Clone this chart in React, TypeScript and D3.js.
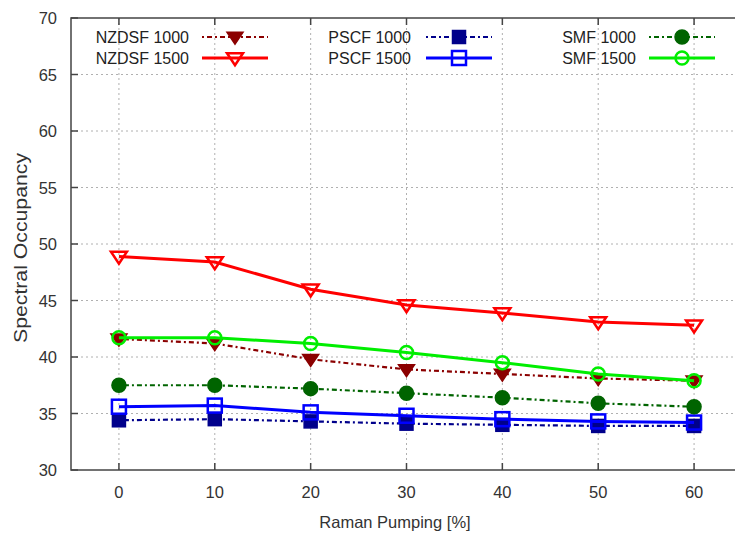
import React from "react";
import * as d3 from "d3";

const xValues = [0, 10, 20, 30, 40, 50, 60];
const nzdsf1000 = [41.6, 41.2, 39.8, 38.9, 38.5, 38.1, 37.9];
const nzdsf1500 = [48.9, 48.4, 46.0, 44.6, 43.9, 43.1, 42.8];
const pscf1000 = [34.4, 34.5, 34.3, 34.1, 34.0, 33.9, 33.9];
const pscf1500 = [35.6, 35.7, 35.1, 34.8, 34.5, 34.3, 34.2];
const smf1000 = [37.5, 37.5, 37.2, 36.8, 36.4, 35.9, 35.6];
const smf1500 = [41.7, 41.7, 41.2, 40.4, 39.5, 38.5, 37.9];
const xTicks = [0, 10, 20, 30, 40, 50, 60];
const yTicks = [30, 35, 40, 45, 50, 55, 60, 65, 70];

type Marker = "triDown" | "square" | "circle";
interface Series {
  name: string;
  values: number[];
  color: string;
  marker: Marker;
  filled: boolean;
  thick: boolean;
}

const series: Series[] = [
  { name: "NZDSF 1000", values: nzdsf1000, color: "#8b0000", marker: "triDown", filled: true, thick: false },
  { name: "NZDSF 1500", values: nzdsf1500, color: "#ff0000", marker: "triDown", filled: false, thick: true },
  { name: "PSCF 1000", values: pscf1000, color: "#00008b", marker: "square", filled: true, thick: false },
  { name: "PSCF 1500", values: pscf1500, color: "#0000ff", marker: "square", filled: false, thick: true },
  { name: "SMF 1000", values: smf1000, color: "#006400", marker: "circle", filled: true, thick: false },
  { name: "SMF 1500", values: smf1500, color: "#00ee00", marker: "circle", filled: false, thick: true },
];

const W = 735;
const H = 536;
const left = 71;
const right = 742;
const top = 18;
const bottom = 470;
const FONT = "'Liberation Sans', Arial, Helvetica, sans-serif";

function MarkerShape({ s, cx, cy }: { s: Series; cx: number; cy: number }) {
  const fill = s.filled ? s.color : "white";
  const fillOpacity = s.filled ? 1 : 0;
  const sw = s.filled ? 1.5 : 2.5;
  if (s.marker === "triDown") {
    const r = 8;
    const p = `M${cx - r},${cy - r * 0.6} L${cx + r},${cy - r * 0.6} L${cx},${cy + r * 0.9} Z`;
    return <path d={p} fill={fill} fillOpacity={fillOpacity} stroke={s.color} strokeWidth={sw} />;
  }
  if (s.marker === "square") {
    const r = s.filled ? 6.5 : 7;
    return (
      <rect x={cx - r} y={cy - r} width={2 * r} height={2 * r} fill={fill} fillOpacity={fillOpacity} stroke={s.color} strokeWidth={sw} />
    );
  }
  const r = s.filled ? 7 : 6.5;
  return <circle cx={cx} cy={cy} r={r} fill={fill} fillOpacity={fillOpacity} stroke={s.color} strokeWidth={sw} />;
}

export default function App() {
  const x = d3.scaleLinear().domain([-5, 65]).range([left, right]);
  const y = d3.scaleLinear().domain([30, 70]).range([bottom, top]);
  const line = d3
    .line<number>()
    .x((_, i) => x(xValues[i]))
    .y((d) => y(d));

  const legendCols = [0, 1, 2];
  const legendTextEnd = [189, 411, 636];
  const legendSampleStart = [202, 426, 649];
  const legendSampleLen = 66;
  const legendRows = [37, 58];

  return (
    <svg
      width={W}
      height={H}
      style={{ position: "absolute", left: 0, top: 0, background: "white" }}
      fontFamily={FONT}
    >
      <rect x={0} y={0} width={W} height={H} fill="white" />
      {/* grid */}
      {xTicks.map((t) => (
        <line key={"gx" + t} x1={x(t)} x2={x(t)} y1={top} y2={bottom} stroke="#b0b0b0" strokeWidth={1} strokeDasharray="2,3" />
      ))}
      {yTicks.slice(1, -1).map((t) => (
        <line key={"gy" + t} x1={left} x2={right} y1={y(t)} y2={y(t)} stroke="#b0b0b0" strokeWidth={1} strokeDasharray="2,3" />
      ))}
      {/* ticks */}
      {xTicks.map((t) => (
        <g key={"tx" + t}>
          <line x1={x(t)} x2={x(t)} y1={bottom} y2={bottom - 7} stroke="#444" strokeWidth={1.5} />
          <line x1={x(t)} x2={x(t)} y1={top} y2={top + 7} stroke="#444" strokeWidth={1.5} />
          <text x={x(t)} y={498} textAnchor="middle" fontSize={16.5} fill="#333">
            {t}
          </text>
        </g>
      ))}
      {yTicks.map((t) => (
        <g key={"ty" + t}>
          <line x1={left} x2={left + 7} y1={y(t)} y2={y(t)} stroke="#444" strokeWidth={1.5} />
          <text x={57} y={y(t) + 6} textAnchor="end" fontSize={16.5} fill="#333">
            {t}
          </text>
        </g>
      ))}
      {/* frame */}
      <rect x={left} y={top} width={right - left} height={bottom - top} fill="none" stroke="#444" strokeWidth={1.5} />
      {/* series */}
      {series.map((s) => (
        <g key={s.name}>
          <path
            d={line(s.values) || ""}
            fill="none"
            stroke={s.color}
            strokeWidth={s.thick ? 3 : 2.2}
            strokeDasharray={s.thick ? undefined : "2,3,5,3"}
          />
          {s.values.map((v, i) => (
            <MarkerShape key={i} s={s} cx={x(xValues[i])} cy={y(v)} />
          ))}
        </g>
      ))}
      {/* legend */}
      {series.map((s, k) => {
        const col = legendCols[Math.floor(k / 2)];
        const row = k % 2;
        const ly = legendRows[row];
        const x0 = legendSampleStart[col];
        return (
          <g key={"lg" + s.name}>
            <text x={legendTextEnd[col]} y={ly + 6} textAnchor="end" fontSize={16} fill="#222">
              {s.name}
            </text>
            <line
              x1={x0}
              x2={x0 + legendSampleLen}
              y1={ly}
              y2={ly}
              stroke={s.color}
              strokeWidth={s.thick ? 3 : 2.2}
              strokeDasharray={s.thick ? undefined : "2,3,5,3"}
            />
            <MarkerShape s={s} cx={x0 + legendSampleLen / 2} cy={ly} />
          </g>
        );
      })}
      {/* axis titles */}
      <text x={395} y={528} textAnchor="middle" fontSize={16.5} fill="#333">
        Raman Pumping [%]
      </text>
      <text
        transform={`translate(27,248) rotate(-90)`}
        textAnchor="middle"
        fontSize={17.5}
        fill="#333"
        textLength={190}
        lengthAdjust="spacingAndGlyphs"
      >
        Spectral Occupancy
      </text>
    </svg>
  );
}
